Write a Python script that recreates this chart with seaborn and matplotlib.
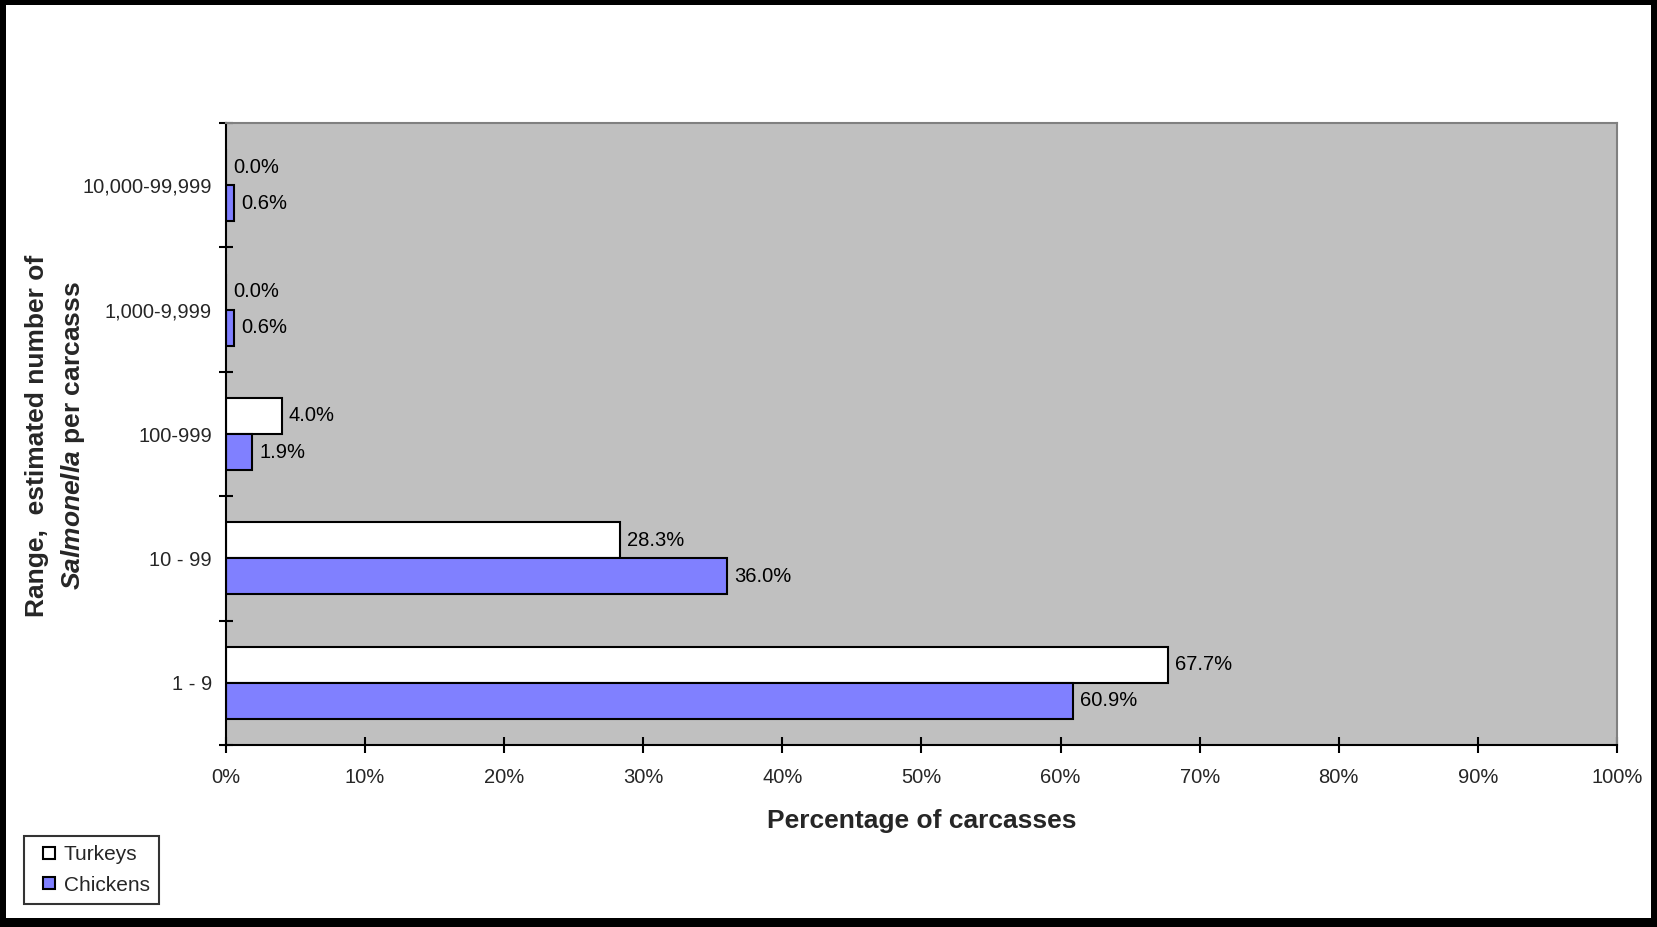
import matplotlib
matplotlib.use("Agg")
import matplotlib.pyplot as plt
from matplotlib.patches import Rectangle
from matplotlib.lines import Line2D
from matplotlib.ticker import FixedLocator, PercentFormatter
import pandas as pd
import seaborn as sns

# Ranges of estimated Salmonella counts per carcass (top to bottom)
ranges = ["10,000-99,999", "1,000-9,999", "100-999", "10 - 99", "1 - 9"]
turkeys = [0.0, 0.0, 4.0, 28.3, 67.7]
chickens = [0.6, 0.6, 1.9, 36.0, 60.9]
species = ["Turkeys", "Chickens"]
x_ticks = [0, 10, 20, 30, 40, 50, 60, 70, 80, 90, 100]

df = pd.DataFrame({
    "range": ranges * 2,
    "pct": turkeys + chickens,
    "species": ["Turkeys"] * len(ranges) + ["Chickens"] * len(ranges),
})

sns.set_theme(style="white")
plt.rcParams["font.family"] = ["Liberation Sans", "DejaVu Sans"]
plt.rcParams["mathtext.fontset"] = "custom"
plt.rcParams["mathtext.it"] = "Liberation Sans:italic:bold"
plt.rcParams["mathtext.rm"] = "Liberation Sans:bold"

W, H = 1658, 927
fig = plt.figure(figsize=(W / 100, H / 100), dpi=100)
fig.patch.set_facecolor("white")

# plot area in pixel coordinates
L, R, T, B = 226, 1617, 123, 745
ax = fig.add_axes([L / W, 1 - B / H, (R - L) / W, (B - T) / H])
ax.set_facecolor("#C0C0C0")

colors = {"Turkeys": "#FFFFFF", "Chickens": "#8080FF"}
sns.barplot(data=df, y="range", x="pct", hue="species", order=ranges,
            hue_order=species, palette=colors, orient="h", width=0.58,
            saturation=1, edgecolor="black", linewidth=1.5, ax=ax,
            legend=False, errorbar=None)

# value labels at the end of each bar
for container in ax.containers:
    for bar in container:
        val = bar.get_width()
        ax.annotate(f"{val:.1f}%", (val, bar.get_y() + bar.get_height() / 2),
                    xytext=(7, 0), textcoords="offset pixels",
                    ha="left", va="center", fontsize=14.5, color="black")

ax.set_xlim(0, 100)
ax.set_ylim(len(ranges) - 0.5, -0.5)
ax.xaxis.set_major_locator(FixedLocator(x_ticks))
ax.xaxis.set_major_formatter(PercentFormatter(decimals=0))
ax.tick_params(axis="x", which="major", direction="inout", length=11,
               width=1.5, color="black", labelsize=14.5, pad=11, bottom=True)
ax.yaxis.set_minor_locator(FixedLocator([i - 0.5 for i in range(len(ranges) + 1)]))
ax.tick_params(axis="y", which="major", length=0, labelsize=14.5, pad=10)
ax.tick_params(axis="y", which="minor", direction="inout", length=9.5,
               width=1.5, color="black", left=True)

for side in ["top", "right"]:
    ax.spines[side].set_color("#808080")
    ax.spines[side].set_linewidth(1.5)
for side in ["left", "bottom"]:
    ax.spines[side].set_color("black")
    ax.spines[side].set_linewidth(1.5)

ax.set_ylabel("")
ax.set_xlabel("Percentage of carcasses", fontsize=19, fontweight="bold",
              labelpad=16)

fig.text(56 / W, 1 - 436 / H,
         "Range,  estimated number of\n$\\mathit{Salmonella}$ per carcasss",
         rotation=90, ha="center", va="center", fontsize=19,
         fontweight="bold", linespacing=1.45, multialignment="center")

handles = [Line2D([], [], linestyle="none", marker="s", markersize=8,
                  markerfacecolor=colors[s], markeredgecolor="black",
                  markeredgewidth=1.5, label=s)
           for s in species]
leg = fig.legend(handles=handles, loc="lower left",
                 bbox_to_anchor=(24 / W, 1 - 904 / H), fontsize=15,
                 frameon=True, fancybox=False, handlelength=1.5,
                 handletextpad=-0.05, borderpad=0.45,
                 labelspacing=0.55, borderaxespad=0)
leg.get_frame().set_edgecolor("black")
leg.get_frame().set_linewidth(1.5)

# heavy outer frame of the figure
for (x0, y0, w, h) in [(0, 0, 6, H), (0, 0, W, 5), (W - 7, 0, 7, H), (0, H - 9, W, 9)]:
    fig.patches.append(Rectangle((x0 / W, 1 - (y0 + h) / H), w / W, h / H,
                                 transform=fig.transFigure, facecolor="black",
                                 edgecolor="none", zorder=10))

fig.savefig("out.png", dpi=100)
